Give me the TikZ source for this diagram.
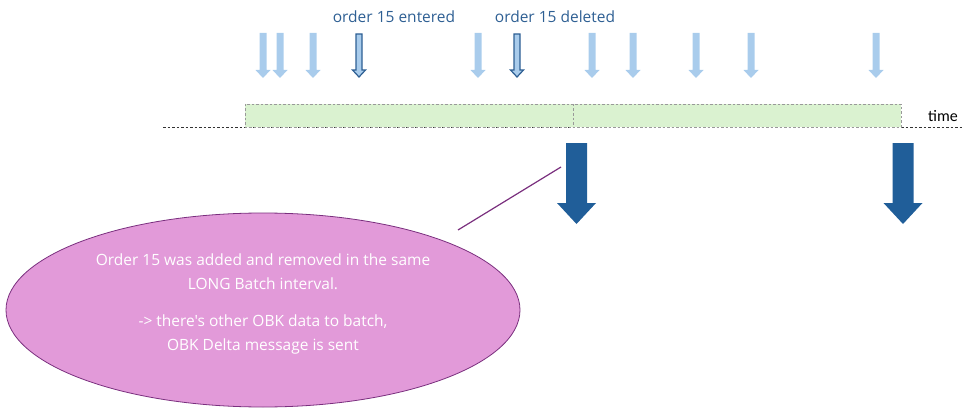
\documentclass[tikz,border=0pt]{standalone}
\usepackage{fontspec}
\setmainfont{Carlito}
\newfontfamily\labelfont{Open Sans}
\usetikzlibrary{shapes.geometric}
\definecolor{lightarr}{HTML}{A9CCEC}
\definecolor{darkedge}{HTML}{2E5F93}
\definecolor{bigarr}{HTML}{205E99}
\definecolor{greenfill}{HTML}{DAF2D0}
\definecolor{labelblue}{HTML}{2E5F93}
\definecolor{ellfill}{HTML}{E29AD9}
\definecolor{elledge}{HTML}{7A2F7E}
\tikzset{
  smallarr/.style={fill=lightarr, draw=none},
  markedarr/.style={fill=lightarr, draw=darkedge, line width=1.2pt},
  bigarrow/.style={fill=bigarr, draw=none},
  slot/.style={fill=greenfill, draw=gray!80, line width=0.8pt, dash pattern=on 2.5pt off 2pt},
  timeline/.style={draw=black!80, line width=1pt, dash pattern=on 2.5pt off 2pt},
  toplabel/.style={text=labelblue, font=\labelfont\fontsize{15.5}{17}\selectfont, inner sep=0pt},
  note/.style={ellipse, fill=ellfill, draw=elledge, line width=0.8pt},
}
% \DArr{style}{x}{ytop}{yhead}{ytip}{shaft half}{head half}
\newcommand\DArr[7]{%
  \path[#1] (#2-#6,#3) -- (#2+#6,#3) -- (#2+#6,#4) -- (#2+#7,#4) -- (#2,#5)
    -- (#2-#7,#4) -- (#2-#6,#4) -- cycle;}
\begin{document}
\begin{tikzpicture}[x=1pt,y=-1pt]
\useasboundingbox (0,0) rectangle (970,412);
% timeline
\coordinate (tl0) at (163,127);
\coordinate (tl1) at (962,127);
\draw[timeline] (tl0) -- (tl1);
\path[slot] (245,104) rectangle (573,127);
\path[slot] (573,104) rectangle (901,127);
\node[inner sep=0pt, font=\fontsize{16}{18}\selectfont] (time) at (943,116) {time};
% small arrows
\foreach \x in {263,280,313,478,592,633,696,751,876} {
  \DArr{smallarr}{\x}{33}{70}{78}{3.5}{7.5}
}
\DArr{markedarr}{359}{34}{70}{77}{3}{6.5}
\DArr{markedarr}{517}{34}{70}{77}{3}{6.5}
\node[toplabel] (entered) at (394,17) {order 15 entered};
\node[toplabel] (deleted) at (555,17) {order 15 deleted};
% big arrows
\DArr{bigarrow}{576.5}{143}{203}{224}{10.5}{19.5}
\DArr{bigarrow}{903}{143}{203}{224}{10.5}{19.5}
% callout
\node[note, minimum width=514pt, minimum height=194pt] (callout) at (263,310) {};
\coordinate (ptr) at (561,167);
\draw[elledge, line width=1.2pt] (458,230) -- (ptr);
\node[text=white, align=center, font=\labelfont\fontsize{15.5}{23.5}\selectfont] (msg) at (263,304)
 {Order 15 was added and removed in the same\\LONG Batch interval.\\[14pt]-> there's other OBK data to batch,\\OBK Delta message is sent};
\end{tikzpicture}
\end{document}
